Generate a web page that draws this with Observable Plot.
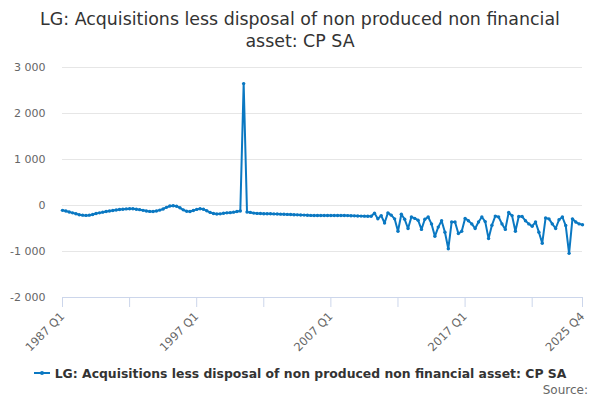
<!DOCTYPE html>
<html>
<head>
<meta charset="utf-8">
<script src="https://cdn.jsdelivr.net/npm/d3@7"></script>
<script src="https://cdn.jsdelivr.net/npm/@observablehq/plot@0.6"></script>
<style>
  html, body { margin: 0; padding: 0; background: #fff; width: 600px; height: 400px; overflow: hidden; font-family: "DejaVu Sans", sans-serif; }
  #title { height: 55px; box-sizing: border-box; padding-top: 8px; text-align: center; font-size: 17.4px; line-height: 22px; color: #333; width: 560px; margin: 0 auto; }
  #chart svg { display: block; }
  #legend { display: flex; justify-content: center; align-items: center; height: 18px; margin-top: 9px; font-size: 12.4px; font-weight: bold; color: #333; }
  #legend svg { margin-right: 5px; }
  #source { text-align: right; padding-right: 12px; font-size: 12px; color: #666; margin-top: 1px; }
</style>
</head>
<body>
<div id="title">LG: Acquisitions less disposal of non produced non financial asset: CP SA</div>
<div id="chart"></div>
<div id="legend"><svg width="16" height="10"><line x1="0" y1="5" x2="16" y2="5" stroke="#0a78c2" stroke-width="2"/><circle cx="8" cy="5" r="2" fill="#0a78c2"/></svg><span>LG: Acquisitions less disposal of non produced non financial asset: CP SA</span></div>
<div id="source">Source:</div>
<script>
const seriesName = "LG: Acquisitions less disposal of non produced non financial asset: CP SA";
const firstYear = 1987;
const lastYear = 2025;
const quarters = [];
for (let y = firstYear; y <= lastYear; y++) for (let q = 1; q <= 4; q++) quarters.push(y + " Q" + q);

const values = [
  -105, -120, -140, -160, -180, -200, -210, -215, -210, -195,
  -175, -160, -145, -130, -118, -108, -98, -88, -80, -74,
  -70, -72, -80, -90, -105, -118, -128, -130, -118, -100,
  -75, -40, -10, -5, -15, -50, -95, -125, -130, -110,
  -85, -72, -80, -115, -150, -175, -185, -182, -170, -160,
  -155, -145, -130, -120, 2650, -140, -150, -165, -172, -175,
  -178, -180, -180, -183, -185, -188, -190, -193, -196, -200,
  -203, -206, -209, -212, -215, -216, -217, -218, -218, -218,
  -218, -217, -217, -217, -218, -220, -222, -225, -228, -230,
  -232, -235, -235, -170, -290, -220, -380, -160, -210, -290,
  -560, -190, -300, -500, -250, -280, -320, -520, -300, -250,
  -400, -670, -470, -330, -580, -940, -360, -360, -610, -560,
  -280, -330, -400, -500, -360, -250, -350, -720, -430, -230,
  -250, -400, -520, -150, -220, -560, -240, -240, -330, -400,
  -450, -360, -580, -820, -270, -290, -400, -500, -310, -250,
  -435, -1040, -290, -360, -400, -420
];

const yTicks = [-2000, -1000, 0, 1000, 2000, 3000];
const xTicks = ["1987 Q1", "1992 Q1", "1997 Q1", "2002 Q1", "2007 Q1", "2012 Q1", "2017 Q1", "2022 Q1", "2025 Q4"];
const xLabels = ["1987 Q1", "1997 Q1", "2007 Q1", "2017 Q1", "2025 Q4"];

const data = quarters.map((q, i) => ({quarter: q, value: values[i]}));
const color = "#0a78c2";
const fmtY = d => (d < 0 ? "-" : "") + d3.format(",")(Math.abs(d)).replace(/,/g, " ");

const chart = Plot.plot({
  width: 600,
  height: 300,
  marginTop: 12,
  marginBottom: 58,
  marginLeft: 62,
  marginRight: 18,
  style: {fontFamily: "DejaVu Sans, sans-serif", background: "#fff"},
  x: {type: "point", domain: quarters, padding: 0},
  y: {domain: [-2000, 3000]},
  marks: [
    Plot.gridY(yTicks, {stroke: "#e6e6e6", strokeOpacity: 1}),
    Plot.axisY(yTicks, {tickSize: 0, tickPadding: 17, tickFormat: fmtY, fontSize: 11, fill: "#666", label: null}),
    Plot.ruleY([-2000], {stroke: "#ccd6eb", strokeWidth: 1}),
    Plot.axisX(xTicks, {tickSize: 10, tickPadding: 7, tickRotate: -45, stroke: "#ccd6eb", fill: "#666", fontSize: 11.5,
      tickFormat: d => xLabels.includes(d) ? d : "", label: null}),
    Plot.line(data, {x: "quarter", y: "value", stroke: color, strokeWidth: 2}),
    Plot.dot(data, {x: "quarter", y: "value", r: 1.7, fill: color, stroke: "none"})
  ]
});
document.getElementById("chart").appendChild(chart);
</script>
</body>
</html>
